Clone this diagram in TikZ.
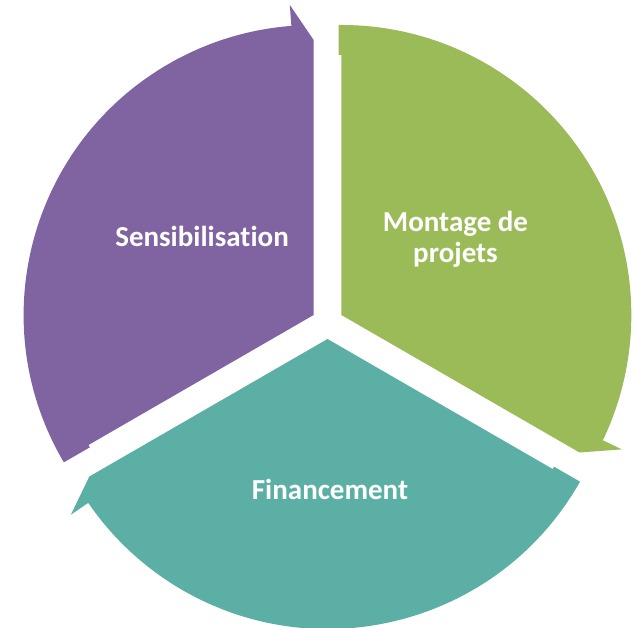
\documentclass[tikz,border=0pt]{standalone}
\usepackage{fontspec}
\setmainfont{Carlito}[Ligatures={NoCommon}]
\usetikzlibrary{calc}
\definecolor{segpurple}{HTML}{8064A2}
\definecolor{seggreen}{HTML}{9BBB59}
\definecolor{segteal}{HTML}{5CAFA5}
\tikzset{
  lbl/.style={text=white, font=\fontsize{29}{31.5}\selectfont\bfseries, inner sep=0pt, align=center},
}
\newcommand{\cycseg}[3]{% #1 start angle, #2 colour, #3 name
  \pgfmathsetmacro{\segmid}{#1-60}
  \pgfmathsetmacro{\segend}{#1-120}
  \coordinate (#3) at ($(C)+(\segmid:16pt)$);
  \fill[#2] (#3) -- ($(#3)+(#1:260pt)$) -- ++(#1+90:2.7pt)
    -- ($(#3)+(#1:290pt)+(#1+90:2.7pt)$)
    arc[start angle=#1+0.53, end angle=\segend+4.4, radius=290pt]
    -- ($(#3)+(\segend+4.4:311pt)$) -- ($(#3)+(\segend:275pt)$) -- cycle;
}
\begin{document}
\begin{tikzpicture}[x=1pt,y=1pt]
\useasboundingbox (0,0) rectangle (637,627);
\coordinate (C) at (327.5,304);
\cycseg{210}{segpurple}{purple}
\cycseg{90}{seggreen}{green}
\cycseg{-30}{segteal}{teal}
\node[lbl, anchor=base] (sens) at (202,380) {Sensibilisation};
\node[lbl, anchor=base] (mont) at (455.5,364) {Montage de\\projets};
\node[lbl, anchor=base] (fin) at (330,128) {Financement};
\end{tikzpicture}
\end{document}
